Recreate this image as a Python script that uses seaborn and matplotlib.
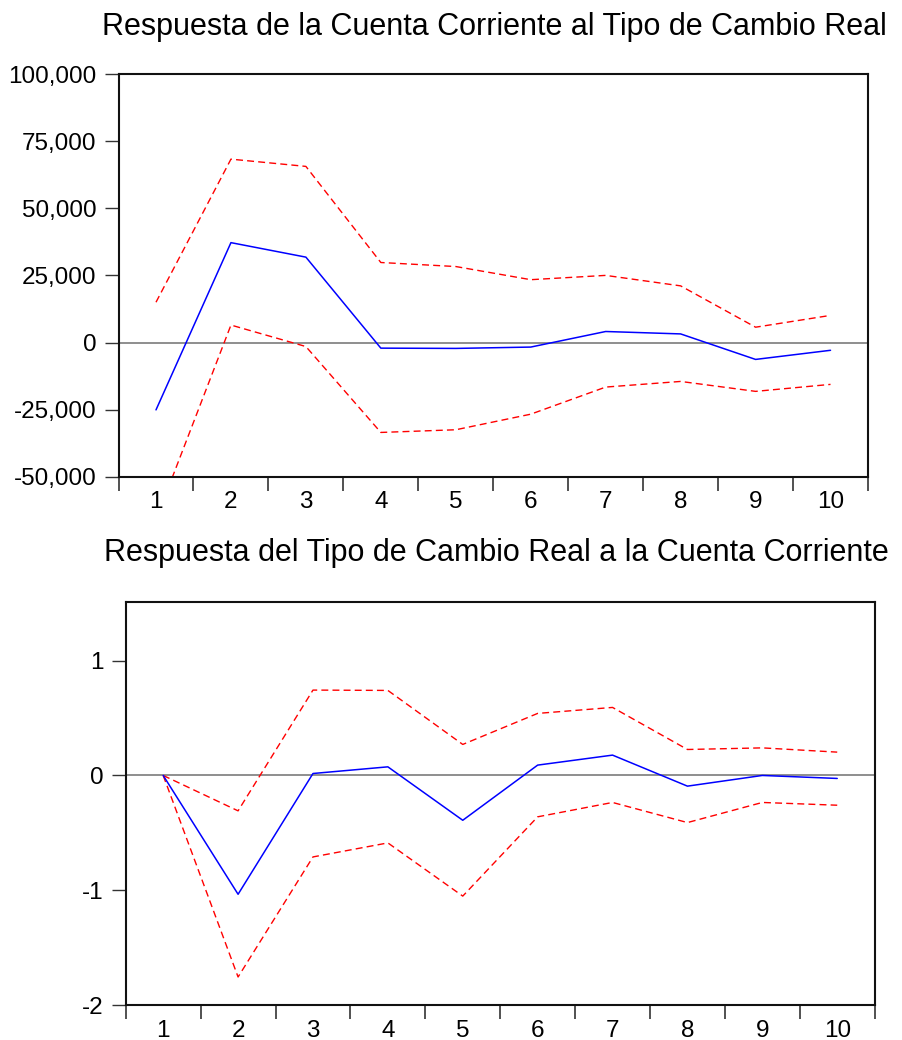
import matplotlib
matplotlib.use("Agg")
import matplotlib.pyplot as plt
import seaborn as sns
import numpy as np
import pandas as pd
from matplotlib.ticker import FixedLocator, StrMethodFormatter

sns.set_style("white")
plt.rcParams['font.family'] = ['Liberation Sans', 'DejaVu Sans']
plt.rcParams['axes.unicode_minus'] = False

periodos = list(range(1, 11))

# Respuesta de la Cuenta Corriente al Tipo de Cambio Real
cc_resp = [-25100, 37200, 31800, -2100, -2200, -1700, 4100, 3200, -6300, -2900]
cc_sup = [15000, 68300, 65600, 29800, 28300, 23400, 25000, 21100, 5700, 10100]
cc_inf = [-66000, 6500, -1500, -33500, -32500, -26700, -16600, -14500, -18200, -15600]

# Respuesta del Tipo de Cambio Real a la Cuenta Corriente
tc_resp = [0.0, -1.034, 0.017, 0.075, -0.39, 0.09, 0.177, -0.093, 0.0, -0.026]
tc_sup = [0.0, -0.308, 0.743, 0.74, 0.27, 0.54, 0.592, 0.226, 0.24, 0.203]
tc_inf = [0.0, -1.754, -0.709, -0.587, -1.05, -0.36, -0.235, -0.41, -0.235, -0.259]

titulos = ["Respuesta de la Cuenta Corriente al Tipo de Cambio Real",
           "Respuesta del Tipo de Cambio Real a la Cuenta Corriente"]

fig = plt.figure(figsize=(9.02, 10.40), dpi=100)
ax1 = fig.add_axes([0.1314, 0.5416, 0.9623 - 0.1314, 0.9288 - 0.5416])
ax2 = fig.add_axes([0.1394, 0.0334, 0.9697 - 0.1394, 0.4212 - 0.0334])


def dibujar(ax, resp, sup, inf, ylim, yticks):
    df = pd.DataFrame({'periodo': periodos, 'resp': resp, 'sup': sup, 'inf': inf})
    ax.axhline(0, color='#707070', lw=1.1, zorder=1)
    sns.lineplot(data=df, x='periodo', y='sup', ax=ax, color='#ff0000', lw=1.0,
                 linestyle=(0, (5, 3)))
    sns.lineplot(data=df, x='periodo', y='inf', ax=ax, color='#ff0000', lw=1.0,
                 linestyle=(0, (5, 3)))
    sns.lineplot(data=df, x='periodo', y='resp', ax=ax, color='#0000ff', lw=1.1)
    ax.set_xlim(0.5, 10.5)
    ax.set_ylim(*ylim)
    ax.set_xlabel('')
    ax.set_ylabel('')
    # etiquetas en el centro, marcas en los bordes
    ax.xaxis.set_major_locator(FixedLocator(periodos))
    ax.xaxis.set_minor_locator(FixedLocator(np.arange(0.5, 11, 1)))
    ax.tick_params(axis='x', which='major', length=0, pad=10.5, labelsize=17.5,
                   labelcolor='black')
    ax.tick_params(axis='x', which='minor', length=10, width=1.2, color='#333333',
                   bottom=True, direction='out')
    ax.set_yticks(yticks)
    ax.tick_params(axis='y', which='major', length=10, width=1.0, pad=6,
                   labelsize=17.5, left=True, direction='out', color='#333333',
                   labelcolor='black')
    for s in ax.spines.values():
        s.set_color('#111111')
        s.set_linewidth(1.5)


dibujar(ax1, cc_resp, cc_sup, cc_inf, (-50000, 100000),
        [-50000, -25000, 0, 25000, 50000, 75000, 100000])
ax1.yaxis.set_major_formatter(StrMethodFormatter('{x:,.0f}'))

dibujar(ax2, tc_resp, tc_sup, tc_inf, (-2.0, 1.51), [-2, -1, 0, 1])
ax2.yaxis.set_major_formatter(StrMethodFormatter('{x:.0f}'))

fig.text(0.548, 0.974, titulos[0], ha='center', va='center', fontsize=22,
         color='black')
fig.text(0.550, 0.468, titulos[1], ha='center', va='center', fontsize=22,
         color='black')

fig.savefig('out.png', dpi=100)
